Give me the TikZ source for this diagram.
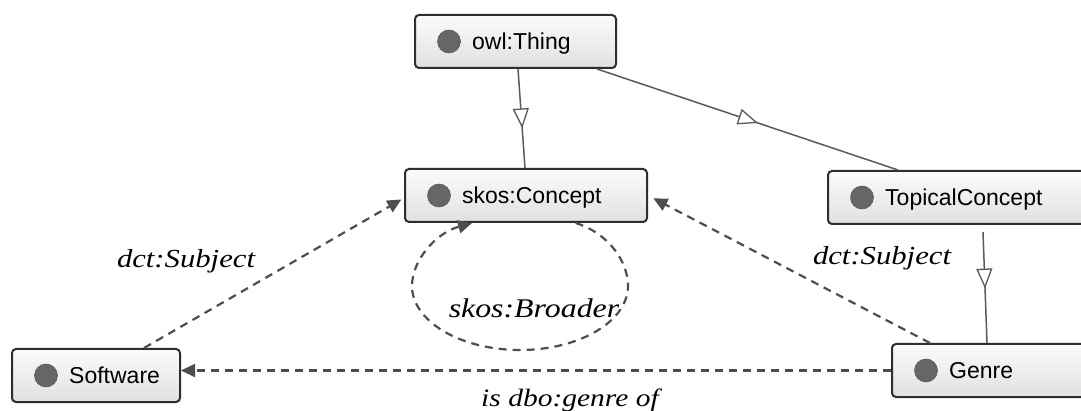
\documentclass[tikz,border=0pt]{standalone}
\usepackage{fontspec}
\setmainfont{Liberation Sans}
\newfontfamily\edgefont{Liberation Serif}[FakeStretch=1.18]
\usetikzlibrary{arrows.meta,decorations.markings}

\definecolor{boxline}{HTML}{2E2E2E}
\definecolor{dotgray}{HTML}{666666}
\definecolor{linkgray}{HTML}{4E4E4E}
\definecolor{isagray}{HTML}{5A5A5A}

\tikzset{
  classbox/.style={draw=boxline, line width=2pt, rounded corners=4pt,
    top color=white!97!gray, bottom color=gray!24, minimum height=53pt,
    inner sep=0pt, anchor=north west},
  classdot/.style={circle, fill=dotgray, draw=dotgray!80!black, line width=0.5pt,
    minimum size=23pt, inner sep=0pt},
  classname/.style={font=\fontsize{23}{23}\selectfont, anchor=base west,
    inner sep=0pt, text=black},
  isaline/.style={draw=isagray, line width=1.5pt,
    decoration={markings, mark=at position #1 with
      {\arrow{Triangle[length=20pt,width=16pt,fill=white,line width=1.3pt]}}},
    postaction=decorate},
  relation/.style={draw=linkgray, line width=2.2pt, dash pattern=on 8pt off 6pt,
    -{Triangle[length=14pt,width=13pt,fill=linkgray]}},
  edgelabel/.style={font=\edgefont\itshape\fontsize{26}{26}\selectfont,
    anchor=base, inner sep=0pt, text=black}
}

% an ontology class: rounded box, grey bullet and name
\newcommand\ontoclass[5]{%
  \node[classbox, minimum width=#4pt] (#1) at (#2,#3) {};
  \node[classdot] (#1-dot) at ([xshift=35pt]#1.west) {};
  \node[classname] (#1-name) at ([shift={(58pt,-8pt)}]#1.west) {#5};
}

\begin{document}
\begin{tikzpicture}[x=1pt,y=-1pt]
  \fill[white] (0,0) rectangle (1081,411);
  \clip (0,0) rectangle (1081,411);

  \ontoclass{thing}{414}{14}{201}{owl:Thing}
  \ontoclass{concept}{404}{168}{242}{skos:Concept}
  \ontoclass{topical}{827}{170}{265}{TopicalConcept}
  \ontoclass{genre}{891}{343}{200}{Genre}
  \ontoclass{software}{11}{348}{168}{Software}

  % subclass links
  \draw[isaline=0.6] ([xshift=2.5pt]thing.south) -- ([xshift=-1pt]concept.north);
  \draw[isaline=0.535] ([xshift=-20pt]thing.south east) -- ([xshift=71pt]topical.north west);
  \draw[isaline=0.51] ([shift={(156pt,-7pt)}]topical.south west) -- ([xshift=96pt]genre.north west);

  % object properties
  \draw[relation, shorten >=3pt] ([xshift=48pt]software.north) -- ([yshift=-2.5pt]concept.west);
  \draw[relation, shorten >=6pt] ([xshift=39pt]genre.north west) -- (concept.east);
  \draw[relation] (genre.west) -- (genre.west -| software.east);

  % skos:broader self loop
  \coordinate (loopR) at (628,286);
  \coordinate (loopB) at (520,350);
  \coordinate (loopL) at (412,286);
  \draw[relation] (concept.-29) .. controls (608,233) and (628,261) .. (loopR)
    .. controls (628,321) and (580,350) .. (loopB)
    .. controls (460,350) and (412,321) .. (loopL)
    .. controls (412,260) and (436,233) .. (concept.-153);

  % property labels
  \node[edgelabel] (lblsubj1) at (186,268) {dct:Subject};
  \node[edgelabel] (lblsubj2) at (882,265) {dct:Subject};
  \node[edgelabel, font=\edgefont\itshape\fontsize{27}{27}\selectfont] (lblbroader) at (534,318) {skos:Broader};
  \node[edgelabel, font=\edgefont\itshape\fontsize{25}{25}\selectfont] (lblgenre) at (570,406) {is dbo:genre of};
\end{tikzpicture}
\end{document}
